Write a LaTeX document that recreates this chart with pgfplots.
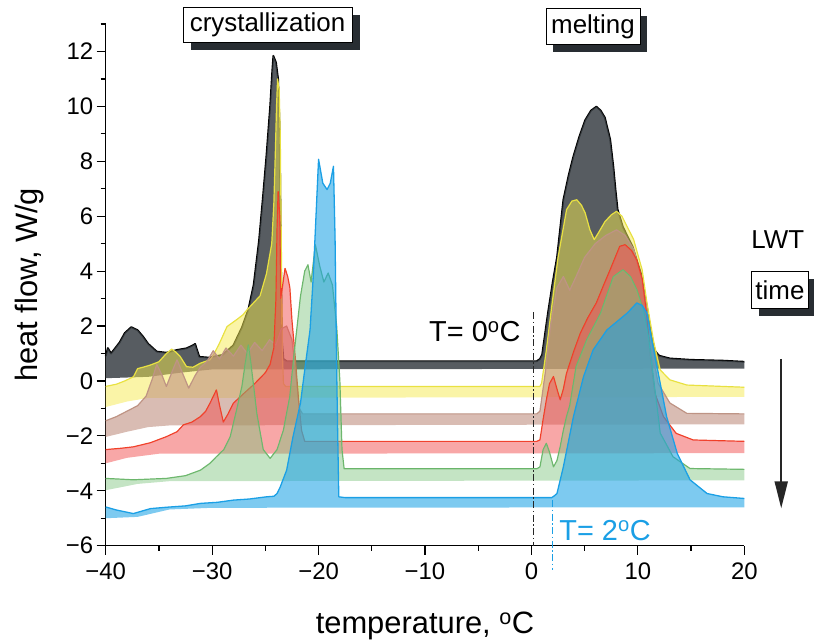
\documentclass[border=0pt]{standalone}
\usepackage{pgfplots}
\pgfplotsset{compat=1.18}
\usepgfplotslibrary{fillbetween}
\usetikzlibrary{arrows.meta}
\usepackage{fontspec}
\setmainfont{Liberation Sans}
\definecolor{bkfill}{RGB}{58,64,69}
\definecolor{ylfill}{RGB}{245,234,80}
\definecolor{ylline}{RGB}{228,222,60}
\definecolor{brfill}{RGB}{192,144,128}
\definecolor{brline}{RGB}{190,150,135}
\definecolor{rdfill}{RGB}{242,80,80}
\definecolor{rdline}{RGB}{240,60,30}
\definecolor{gnfill}{RGB}{124,196,124}
\definecolor{gnline}{RGB}{106,180,106}
\definecolor{blfill}{RGB}{31,163,230}
\definecolor{blline}{RGB}{26,159,229}
\definecolor{shadowgray}{RGB}{40,45,50}
\begin{document}
\begin{tikzpicture}
\begin{axis}[
  set layers,
  at={(105.7bp,98.3bp)}, anchor=south west,
  scale only axis, width=638.6bp, height=521.7bp,
  xmin=-40, xmax=20, ymin=-6, ymax=13,
  axis lines*=left,
  axis line style={line width=1.2bp},
  tick align=outside,
  xtick={-40,-30,...,20}, xticklabels={−40,−30,−20,−10,0,10,20},
  minor xtick={-35,-25,...,15},
  ytick={-6,-4,...,12}, yticklabels={−6,−4,−2,0,2,4,6,8,10,12},
  minor ytick={-5,-3,...,13},
  major tick length=9bp, minor tick length=5bp,
  every tick/.style={line width=1.2bp, black},
  ticklabel style={font=\fontsize{24}{28}\selectfont},
  xticklabel style={yshift=-5bp},
  xlabel={temperature, \textsuperscript{o}C}, ylabel={heat flow, W/g},
  label style={font=\fontsize{31}{36}\selectfont},
  x label style={at={(axis description cs:0.5,-0.153)}, anchor=center},
  y label style={at={(axis description cs:-0.119,0.5)}, anchor=center},
  clip=false, no markers,
]
% ---------- black ----------
\addplot[name path=bk, on layer=pre main, black, line width=1.8bp, line join=round] coordinates {
(-40,0.9)(-39.8,1.2)(-39.5,1.0)(-38.7,1.4)(-38.2,1.75)(-37.6,1.96)(-37,1.85)(-36.5,1.62)(-36,1.35)(-35.2,1.07)(-34.3,1.03)(-33.3,1.13)(-32.4,1.19)(-31.8,1.3)(-31.6,1.35)(-31.2,0.88)(-30.3,0.85)(-29,0.95)(-28,1.3)(-27.2,1.95)(-26.6,2.6)(-26.1,3.5)(-25.6,5.1)(-25.25,6.6)(-24.9,8.2)(-24.55,10)(-24.35,11.3)(-24.25,11.84)(-24.0,11.6)(-23.8,11.0)(-23.65,9.0)(-23.55,5)(-23.45,1.5)(-23.3,0.8)(-23,0.72)(0.5,0.72)(0.8,0.8)(1.0,0.95)(1.2,1.5)(1.45,2.2)(1.6,2.6)(2.0,3.6)(2.4,4.5)(3.0,6.6)(3.5,7.5)(3.95,8.19)(4.5,8.9)(5.05,9.5)(5.6,9.85)(6.1,9.99)(6.5,9.85)(6.9,9.59)(7.4,8.8)(7.7,7.8)(7.9,6.97)(8.1,6.24)(8.6,5.6)(9.5,4.9)(10.3,3.9)(10.8,2.8)(11.3,1.6)(11.6,1.1)(12,0.92)(13,0.82)(15,0.77)(18,0.74)(20,0.7)};
\addplot[name path=bkb, draw=none] coordinates {(-40,0.1)(-36,0.15)(-33,0.3)(-30,0.42)(20,0.45)};
\addplot[fill=bkfill, fill opacity=0.85] fill between[of=bk and bkb];
% ---------- yellow ----------
\addplot[name path=yl, on layer=pre main, ylline, line width=1.2bp, line join=round] coordinates {
(-40,-0.2)(-39,-0.12)(-38.2,0.0)(-37.4,0.15)(-37,0.45)(-36.5,0.5)(-35.8,0.58)(-35,0.7)(-34.3,1.0)(-33.8,1.16)(-33.4,1.05)(-33.0,0.89)(-32.4,0.52)(-31.8,0.5)(-31.1,0.65)(-30.2,0.77)(-29.8,1.0)(-29.3,1.38)(-28.6,1.98)(-27.7,2.23)(-27.1,2.41)(-26.7,2.6)(-26.1,2.85)(-25.5,3.1)(-24.9,3.9)(-24.4,5.0)(-24.2,6.5)(-24.05,8.5)(-23.95,10)(-23.85,11.0)(-23.7,10.6)(-23.6,9)(-23.5,5)(-23.4,1)(-23.3,-0.1)(-23.1,-0.2)(0.8,-0.2)(0.96,-0.08)(1.4,1.13)(1.9,2.7)(2.5,4.5)(3.3,6.24)(3.8,6.55)(4.26,6.6)(4.7,6.4)(5.05,6.12)(5.5,5.5)(5.9,5.15)(6.3,5.4)(6.9,5.8)(7.5,6.05)(8.0,6.18)(8.5,6.0)(9.6,5.15)(10.4,4.05)(10.85,2.85)(11.5,1.4)(12.1,0.4)(13,0.04)(14.6,-0.15)(20,-0.23)};
\addplot[name path=ylb, draw=none] coordinates {(-40,-0.95)(-38,-0.75)(-36,-0.62)(20,-0.58)};
\addplot[fill=ylfill, fill opacity=0.5] fill between[of=yl and ylb];
% ---------- brown ----------
\addplot[name path=br, on layer=pre main, brline, line width=1.2bp, line join=round] coordinates {
(-40,-1.45)(-39,-1.3)(-38,-1.1)(-37,-0.9)(-36.2,-0.55)(-35.6,0.1)(-35.2,0.6)(-34.7,0.2)(-34.3,-0.2)(-33.8,0.3)(-33.3,0.77)(-32.8,0.3)(-32.2,-0.26)(-31.6,0.2)(-31.1,0.5)(-30.5,0.7)(-29.9,1.1)(-29.3,0.8)(-28.7,1.2)(-28,0.9)(-27.3,1.3)(-26.7,1.0)(-26,1.4)(-25.3,1.1)(-24.6,1.5)(-24,1.3)(-23.5,1.9)(-23,2.0)(-22.5,1.5)(-22.2,0.5)(-21.8,-1.0)(-21.5,-1.2)(0.5,-1.2)(0.8,-1.1)(1.3,0.3)(1.8,2.0)(2.4,3.4)(3.0,3.8)(3.6,3.3)(4.2,3.8)(5,4.5)(6,5.0)(7,5.3)(8,5.5)(8.8,5.3)(9.6,4.8)(10.3,3.8)(10.8,2.7)(11.3,1.2)(11.9,-0.08)(13,-0.8)(14.6,-1.18)(20,-1.2)};
\addplot[name path=brb, draw=none] coordinates {(-40,-2.04)(-38,-1.85)(-36,-1.68)(-34,-1.62)(20,-1.58)};
\addplot[fill=brfill, fill opacity=0.6] fill between[of=br and brb];
% ---------- red ----------
\addplot[name path=rd, on layer=pre main, rdline, line width=1.2bp, line join=round] coordinates {
(-40,-2.5)(-38.5,-2.45)(-37.4,-2.4)(-35.8,-2.25)(-34.3,-2.03)(-33.3,-1.85)(-32.7,-1.6)(-31.9,-1.5)(-31.1,-1.3)(-30.6,-1.1)(-30.2,-0.81)(-29.6,-0.33)(-29.3,-0.9)(-28.95,-1.5)(-28.5,-1.2)(-28,-0.81)(-27,-0.45)(-26,-0.1)(-25,0.3)(-24.55,0.6)(-24.2,1.2)(-24.0,3.0)(-23.9,5.5)(-23.8,6.9)(-23.65,6.0)(-23.55,3.0)(-23.4,3.4)(-23.15,4.1)(-22.9,3.8)(-22.7,3.4)(-22.5,2.2)(-22.2,0.9)(-21.9,-0.6)(-21.6,-1.8)(-21.3,-2.2)(0.5,-2.2)(0.8,-2.15)(1.1,-1.4)(1.4,-0.7)(1.7,-0.1)(2.07,0.16)(2.4,-0.3)(2.7,-0.69)(3.0,-0.3)(3.3,0.28)(4.0,1.1)(4.6,1.74)(5.3,2.3)(6.1,2.84)(6.8,3.5)(7.4,4.05)(8.3,4.9)(8.8,4.96)(9.4,4.75)(9.9,4.4)(10.4,3.7)(10.8,2.5)(11.2,0.8)(11.6,-0.45)(12.4,-1.3)(13.6,-1.91)(15.2,-2.15)(20,-2.2)};
\addplot[name path=rdb, draw=none] coordinates {(-40,-3.0)(-38,-2.8)(-35,-2.65)(20,-2.63)};
\addplot[fill=rdfill, fill opacity=0.5] fill between[of=rd and rdb];
% ---------- green ----------
\addplot[name path=gn, on layer=pre main, gnline, line width=1.2bp, line join=round] coordinates {
(-40,-3.55)(-37.4,-3.6)(-34.3,-3.55)(-32.5,-3.45)(-31.1,-3.25)(-30.2,-3.0)(-29.6,-2.76)(-28.9,-2.5)(-28.3,-2.03)(-27.7,-1.06)(-27.2,-0.2)(-26.9,0.6)(-26.6,1.31)(-26.35,0.6)(-26.1,-0.2)(-25.8,-1.2)(-25.2,-2.5)(-24.55,-2.82)(-23.9,-2.5)(-23.3,-1.79)(-22.7,-0.57)(-22.3,1.0)(-21.7,3.08)(-21.3,4.0)(-21.0,4.23)(-20.7,3.6)(-20.3,4.96)(-19.9,4.2)(-19.5,3.6)(-19.1,3.93)(-18.7,3.5)(-18.3,2.0)(-18.0,0)(-17.8,-2.5)(-17.6,-3.2)(0.5,-3.2)(0.8,-3.13)(1.1,-2.5)(1.4,-2.27)(1.7,-2.6)(2.07,-3.13)(2.4,-2.9)(2.7,-2.4)(3.0,-1.8)(3.3,-1.3)(3.6,-0.9)(4.2,0.52)(5.2,1.5)(6.5,2.47)(7.7,3.8)(8.6,4.05)(9.3,3.8)(9.9,3.32)(10.5,2.6)(11,1.6)(11.5,0)(12.1,-1.9)(13.3,-2.76)(14.9,-3.19)(20,-3.22)};
\addplot[name path=gnb, draw=none] coordinates {(-40,-3.98)(-37,-3.75)(-34,-3.65)(20,-3.62)};
\addplot[fill=gnfill, fill opacity=0.45] fill between[of=gn and gnb];
% ---------- blue ----------
\addplot[name path=bl, on layer=pre main, blline, line width=1.3bp, line join=round] coordinates {
(-40,-4.59)(-39,-4.7)(-37.4,-4.83)(-35.8,-4.65)(-34.3,-4.6)(-32.5,-4.55)(-31.1,-4.46)(-29.5,-4.42)(-28,-4.34)(-26.5,-4.3)(-24.9,-4.22)(-24.2,-4.2)(-23.9,-4.1)(-23.6,-3.86)(-23,-3.25)(-22.4,-2.03)(-21.7,-0.81)(-21.3,0.4)(-20.8,1.86)(-20.5,3.8)(-20.3,5.5)(-20.0,8.07)(-19.6,7.2)(-19.2,6.97)(-18.9,7.2)(-18.6,7.82)(-18.45,5.2)(-18.3,0.4)(-18.2,-2)(-18.1,-4.22)(-17.5,-4.25)(1.9,-4.25)(2.1,-4.2)(2.4,-4.1)(3.0,-3.13)(3.95,-1.3)(4.9,0.16)(5.8,1.13)(7.1,1.86)(9.0,2.47)(9.9,2.84)(10.4,2.75)(10.85,2.47)(11.3,1.5)(11.8,0.52)(12.7,-1.3)(13.7,-2.64)(14.9,-3.6)(16.5,-4.1)(18,-4.22)(20,-4.28)};
\addplot[name path=blb, draw=none] coordinates {(-40,-5.0)(-37,-4.95)(-34,-4.68)(-30,-4.62)(20,-4.6)};
\addplot[fill=blfill, fill opacity=0.58] fill between[of=bl and blb];
% ---------- markers of onset ----------
\addplot[black!85, line width=1.4bp, dash pattern=on 7bp off 2.5bp on 1.5bp off 2.5bp] coordinates {(0.2,2.5)(0.2,-6)};
\addplot[blline, line width=1.2bp, dash pattern=on 7bp off 2.5bp on 1.5bp off 2.5bp] coordinates {(2.0,-4.35)(2.0,-6.9)};
% ---------- annotations ----------
\node[anchor=east, font=\fontsize{29}{34}\selectfont] at (axis cs:-0.7,1.8) {T= 0\textsuperscript{o}C};
\node[anchor=west, text=blline, font=\fontsize{29}{34}\selectfont] at (axis cs:2.3,-5.44) {T= 2\textsuperscript{o}C};
\node[fill=shadowgray, minimum width=169bp, minimum height=35bp, inner sep=0] at ([xshift=7.5bp,yshift=-7.5bp]axis cs:-24.79,12.96) {};
\node[draw=black, line width=0.6bp, fill=white, minimum width=169bp, minimum height=35bp, inner sep=0, font=\fontsize{26}{30}\selectfont] at (axis cs:-24.79,12.96) {crystallization};
\node[fill=shadowgray, minimum width=94bp, minimum height=36bp, inner sep=0] at ([xshift=7.5bp,yshift=-7.5bp]axis cs:5.78,12.91) {};
\node[draw=black, line width=0.6bp, fill=white, minimum width=94bp, minimum height=36bp, inner sep=0, font=\fontsize{26}{30}\selectfont] at (axis cs:5.78,12.91) {melting};
\node[font=\fontsize{26}{30}\selectfont] at (axis cs:23.14,5.15) {LWT};
\node[fill=shadowgray, minimum width=57bp, minimum height=37bp, inner sep=0] at ([xshift=7.5bp,yshift=-7.5bp]axis cs:23.35,3.32) {};
\node[draw=black, line width=0.6bp, fill=white, minimum width=57bp, minimum height=37bp, inner sep=0, font=\fontsize{26}{30}\selectfont] at (axis cs:23.35,3.32) {time};
\draw[-{Triangle[length=27bp,width=13bp]}, line width=2bp, black!85] (axis cs:23.47,0.8) -- (axis cs:23.47,-4.64);
\end{axis}
\pgfresetboundingbox
\path[use as bounding box] (0,0) rectangle (814bp,644bp);
\end{tikzpicture}
\end{document}
